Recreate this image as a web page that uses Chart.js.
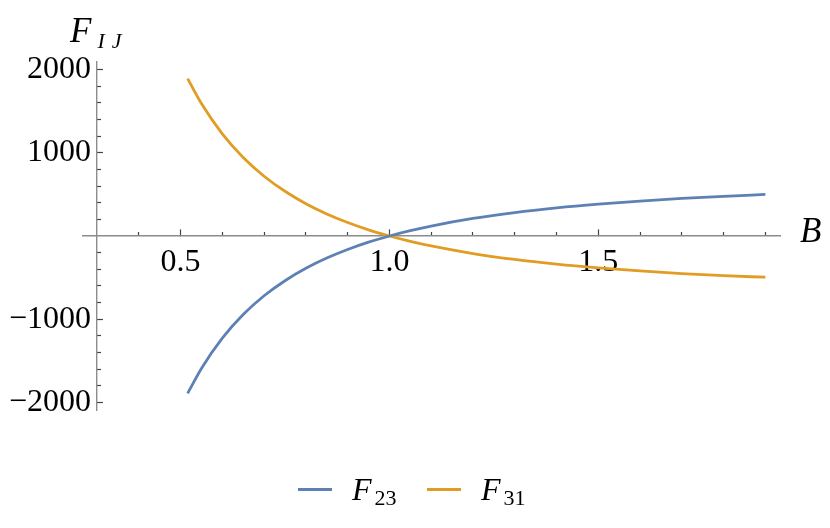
<!DOCTYPE html>
<html>
<head>
<meta charset="utf-8">
<script src="https://cdn.jsdelivr.net/npm/chart.js@4/dist/chart.umd.min.js"></script>
<style>
  html, body { margin: 0; padding: 0; background: #fff; }
  #wrap { position: relative; width: 830px; height: 528px; overflow: hidden; }
  #c { position: absolute; left: 0; top: 0; }
  .t { position: absolute; font-family: "Liberation Serif", "DejaVu Serif", serif; color: #000; line-height: 1; white-space: nowrap; }
  .it { font-style: italic; }
  .sub { font-size: 22px; position: relative; }
  .sw { position: absolute; height: 3px; }
</style>
</head>
<body>
<div id="wrap">
  <canvas id="c" width="830" height="528"></canvas>
  <div class="t it" style="left:70px; top:13px; font-size:35px;">F<span class="sub it" style="top:6px; left:6px; letter-spacing:7px;">IJ</span></div>
  <div class="t it" style="left:800px; top:213px; font-size:35px;">B</div>
  <div class="sw" style="left:298px; top:488px; width:34px; background:#5E81B5;"></div>
  <div class="t" style="left:352px; top:473px; font-size:32px;"><span class="it">F</span><span class="sub" style="top:5px; left:3px; font-style:normal;">23</span></div>
  <div class="sw" style="left:427px; top:488px; width:34px; background:#E19C24;"></div>
  <div class="t" style="left:481px; top:473px; font-size:32px;"><span class="it">F</span><span class="sub" style="top:5px; left:3px; font-style:normal;">31</span></div>
</div>
<script>
// ---- data ----
const bValues = [0.517, 0.55, 0.6, 0.65, 0.7, 0.75, 0.8, 0.85, 0.9, 0.95, 1.0, 1.05, 1.1, 1.2, 1.3, 1.4, 1.5, 1.6, 1.7, 1.8, 1.9];
const f23 = [-1890, -1591, -1227, -943, -718, -537, -388, -265, -162, -74, 0, 64, 120, 211, 282, 338, 383, 420, 451, 477, 499];
const f31 = [1890, 1591, 1227, 943, 718, 537, 388, 265, 162, 74, 0, -64, -120, -211, -282, -338, -383, -420, -451, -477, -495];
const seriesNames = ["F23", "F31"];

const xMajorTicks = [0.5, 1.0, 1.5];
const xMajorLabels = ["0.5", "1.0", "1.5"];
const xMinorTicks = [0.4, 0.6, 0.7, 0.8, 0.9, 1.1, 1.2, 1.3, 1.4, 1.6, 1.7, 1.8, 1.9];
const yMajorTicks = [-2000, -1000, 1000, 2000];
const yMajorLabels = ["\u22122000", "\u22121000", "1000", "2000"];
const yMinorTicks = [-1800, -1600, -1400, -1200, -800, -600, -400, -200, 200, 400, 600, 800, 1200, 1400, 1600, 1800];

const X_MIN = 0.2665, X_MAX = 1.935, Y_MIN = -2090, Y_MAX = 2090, AXIS_X = 0.3;

const BLUE = '#5E81B5', ORANGE = '#E19C24', AXIS = '#8c8c8c';
const tickFont = { family: 'Liberation Serif', size: 32 };
const Y_LABEL_GAP = 6;

function zeroFit(s) {
  if (s.isHorizontal()) s.height = 0; else s.width = 0;
  s.paddingTop = 0; s.paddingBottom = 0; s.paddingLeft = 0; s.paddingRight = 0;
}

function makeScale(axis, isMajor) {
  const horizontal = axis === 'x';
  const vals = horizontal ? (isMajor ? xMajorTicks : xMinorTicks) : (isMajor ? yMajorTicks : yMinorTicks);
  const labels = horizontal ? xMajorLabels : yMajorLabels;
  return {
    type: 'linear',
    axis: axis,
    min: horizontal ? X_MIN : Y_MIN,
    max: horizontal ? X_MAX : Y_MAX,
    position: horizontal ? { y: 0 } : { x: AXIS_X },
    afterBuildTicks: (s) => { s.ticks = vals.map(v => ({ value: v })); },
    afterFit: zeroFit,
    ticks: {
      display: isMajor,
      autoSkip: false,
      maxRotation: 0,
      minRotation: 0,
      font: tickFont,
      color: '#000',
      padding: horizontal ? 14 : 4,
      callback: (v, i) => (isMajor ? labels[i] : '')
    },
    grid: {
      drawOnChartArea: false,
      drawTicks: true,
      tickLength: isMajor ? -7 : -4,
      tickColor: '#444',
      tickWidth: 1.2
    },
    border: { display: isMajor, color: AXIS, width: 1.4 }
  };
}

// shift the y tick labels a little to the left of the axis line
const yLabelGap = {
  id: 'yLabelGap',
  beforeDraw(chart) {
    const s = chart.scales.y;
    const items = s.getLabelItems(chart.chartArea);
    if (!s._gapDone) {
      items.forEach(it => { it.options.translation[0] -= Y_LABEL_GAP; });
      s._gapDone = true;
    }
  },
  afterUpdate(chart) { if (chart.scales.y) chart.scales.y._gapDone = false; }
};

new Chart(document.getElementById('c'), {
  type: 'line',
  data: {
    datasets: [
      { label: seriesNames[0], data: bValues.map((b, i) => ({ x: b, y: f23[i] })), borderColor: BLUE, borderWidth: 2.8, pointRadius: 0, cubicInterpolationMode: 'monotone', fill: false, xAxisID: 'x', yAxisID: 'y' },
      { label: seriesNames[1], data: bValues.map((b, i) => ({ x: b, y: f31[i] })), borderColor: ORANGE, borderWidth: 2.8, pointRadius: 0, cubicInterpolationMode: 'monotone', fill: false, xAxisID: 'x', yAxisID: 'y' }
    ]
  },
  options: {
    responsive: false,
    devicePixelRatio: 1,
    animation: false,
    layout: { padding: { left: 83, top: 62, right: 50, bottom: 118 } },
    plugins: { legend: { display: false }, tooltip: { enabled: false } },
    scales: {
      x: makeScale('x', true),
      xMinor: makeScale('x', false),
      y: makeScale('y', true),
      yMinor: makeScale('y', false)
    }
  },
  plugins: [yLabelGap]
});
</script>
</body>
</html>
